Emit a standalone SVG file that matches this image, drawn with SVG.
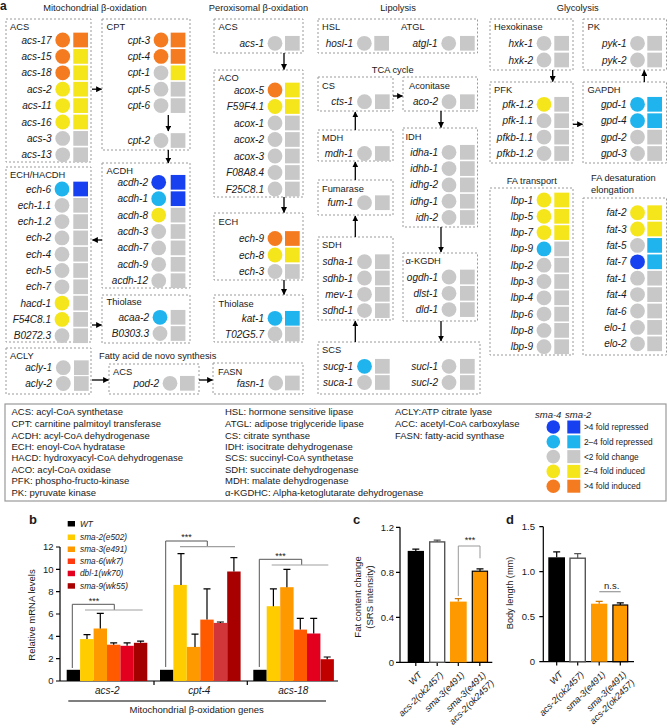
<svg xmlns="http://www.w3.org/2000/svg" width="667" height="728" viewBox="0 0 667 728">
<style>
text{font-family:'Liberation Sans',Arial,sans-serif;fill:#1a1a1a}
.box{fill:none;stroke:#9a9a9a;stroke-width:1;stroke-dasharray:2 2}
.g{font-size:10px;font-style:italic;text-anchor:end}
.h{font-size:9.3px}
.tc{font-size:9.3px;text-anchor:middle}
.lg{font-size:9.5px}
.k{font-size:8.3px}
.ax{font-size:9.5px;text-anchor:end}
.it{font-style:italic}
.xl{font-size:9.2px;font-style:italic;text-anchor:end}
.o{fill:#F47B20}.y{fill:#F5E51B}.n{fill:#C8C8C8}.l{fill:#1FB4EE}.d{fill:#1741F0}
.con{stroke:#000;stroke-width:1.3;fill:none;marker-end:url(#ah)}
.axis{stroke:#000;stroke-width:1.2;fill:none}
.eb{stroke:#000;stroke-width:1.2;fill:none}
.br{stroke:#555;stroke-width:1;fill:none}
.gr{stroke:#a0a0a0;stroke-width:1.2;fill:none}
</style>
<defs>
<marker id="ah" viewBox="0 0 10 10" refX="9" refY="5" markerWidth="6" markerHeight="6" markerUnits="userSpaceOnUse" orient="auto"><path d="M0,0 L10,5 L0,10 z" fill="#000"/></marker>
</defs>
<rect width="667" height="728" fill="#fff"/>

<text x="0" y="10" style="font-size:12px;font-weight:bold">a</text>
<text class="tc" x="95" y="11">Mitochondrial β-oxidation</text>
<text class="tc" x="258.5" y="11">Peroxisomal β-oxidation</text>
<text class="tc" x="398" y="11">Lipolysis</text>
<text class="tc" x="577.7" y="11">Glycolysis</text>
<text class="tc" x="392.7" y="72.5">TCA cycle</text>
<text class="tc" x="531.7" y="184">FA transport</text>
<text class="h" x="591" y="181">FA desaturation</text>
<text class="h" x="591" y="192.6">elongation</text>
<text class="h" x="99" y="359">Fatty acid de novo synthesis</text>

<g id="mito-acs">
<rect class="box" x="6" y="19" width="85" height="143"/>
<text class="h" x="10" y="29.5">ACS</text>
<text class="g" x="51.5" y="43.5">acs-17</text><circle class="o" cx="62.7" cy="40" r="7.4"/><rect class="o" x="73.3" y="32.65" width="14.7" height="14.7"/>
<text class="g" x="51.5" y="59.9">acs-15</text><circle class="o" cx="62.7" cy="56.4" r="7.4"/><rect class="y" x="73.3" y="49.05" width="14.7" height="14.7"/>
<text class="g" x="51.5" y="76.3">acs-18</text><circle class="o" cx="62.7" cy="72.8" r="7.4"/><rect class="y" x="73.3" y="65.45" width="14.7" height="14.7"/>
<text class="g" x="51.5" y="92.7">acs-2</text><circle class="y" cx="62.7" cy="89.2" r="7.4"/><rect class="y" x="73.3" y="81.85" width="14.7" height="14.7"/>
<text class="g" x="51.5" y="109.1">acs-11</text><circle class="y" cx="62.7" cy="105.6" r="7.4"/><rect class="y" x="73.3" y="98.25" width="14.7" height="14.7"/>
<text class="g" x="51.5" y="125.5">acs-16</text><circle class="y" cx="62.7" cy="122" r="7.4"/><rect class="y" x="73.3" y="114.65" width="14.7" height="14.7"/>
<text class="g" x="51.5" y="141.9">acs-3</text><circle class="n" cx="62.7" cy="138.4" r="7.4"/><rect class="n" x="73.3" y="131.05" width="14.7" height="14.7"/>
<text class="g" x="51.5" y="158.3">acs-13</text><circle class="n" cx="62.7" cy="154.8" r="7.4"/><rect class="n" x="73.3" y="147.45" width="14.7" height="14.7"/>
</g>

<g id="cpt">
<rect class="box" x="102" y="19" width="88" height="131"/>
<text class="h" x="106.5" y="29.5">CPT</text>
<text class="g" x="150" y="43.5">cpt-3</text><circle class="o" cx="161" cy="40" r="7.4"/><rect class="o" x="170.7" y="32.65" width="14.7" height="14.7"/>
<text class="g" x="150" y="59.9">cpt-4</text><circle class="o" cx="161" cy="56.4" r="7.4"/><rect class="o" x="170.7" y="49.05" width="14.7" height="14.7"/>
<text class="g" x="150" y="76.3">cpt-1</text><circle class="n" cx="161" cy="72.8" r="7.4"/><rect class="y" x="170.7" y="65.45" width="14.7" height="14.7"/>
<text class="g" x="150" y="92.7">cpt-5</text><circle class="n" cx="161" cy="89.2" r="7.4"/><rect class="n" x="170.7" y="81.85" width="14.7" height="14.7"/>
<text class="g" x="150" y="109.1">cpt-6</text><circle class="n" cx="161" cy="105.6" r="7.4"/><rect class="n" x="170.7" y="98.25" width="14.7" height="14.7"/>
<text class="g" x="150" y="144">cpt-2</text><circle class="n" cx="161" cy="140.5" r="7.4"/><rect class="n" x="170.7" y="133.15" width="14.7" height="14.7"/>
</g>

<g id="acdh">
<rect class="box" x="102" y="163" width="88" height="125"/>
<text class="h" x="106.5" y="174">ACDH</text>
<text class="g" x="148" y="185.8">acdh-2</text><circle class="d" cx="158.7" cy="182.3" r="7.4"/><rect class="d" x="170.7" y="174.95" width="14.7" height="14.7"/>
<text class="g" x="148" y="202.2">acdh-1</text><circle class="l" cx="158.7" cy="198.7" r="7.4"/><rect class="d" x="170.7" y="191.35" width="14.7" height="14.7"/>
<text class="g" x="148" y="218.6">acdh-8</text><circle class="y" cx="158.7" cy="215.1" r="7.4"/><rect class="n" x="170.7" y="207.75" width="14.7" height="14.7"/>
<text class="g" x="148" y="235">acdh-3</text><circle class="n" cx="158.7" cy="231.5" r="7.4"/><rect class="n" x="170.7" y="224.15" width="14.7" height="14.7"/>
<text class="g" x="148" y="251.4">acdh-7</text><circle class="n" cx="158.7" cy="247.9" r="7.4"/><rect class="n" x="170.7" y="240.55" width="14.7" height="14.7"/>
<text class="g" x="148" y="267.8">acdh-9</text><circle class="n" cx="158.7" cy="264.3" r="7.4"/><rect class="n" x="170.7" y="256.95" width="14.7" height="14.7"/>
<text class="g" x="148" y="284.2">acdh-12</text><circle class="n" cx="158.7" cy="280.7" r="7.4"/><rect class="n" x="170.7" y="273.35" width="14.7" height="14.7"/>
</g>

<g id="ech-hacdh">
<rect class="box" x="6" y="167" width="85" height="175"/>
<text class="h" x="10" y="177.6">ECH/HACDH</text>
<text class="g" x="51" y="192.5">ech-6</text><circle class="l" cx="62" cy="189" r="7.4"/><rect class="d" x="73.3" y="181.65" width="14.7" height="14.7"/>
<text class="g" x="51" y="208.8">ech-1.1</text><circle class="n" cx="62" cy="205.3" r="7.4"/><rect class="n" x="73.3" y="197.95" width="14.7" height="14.7"/>
<text class="g" x="51" y="225.1">ech-1.2</text><circle class="n" cx="62" cy="221.6" r="7.4"/><rect class="n" x="73.3" y="214.25" width="14.7" height="14.7"/>
<text class="g" x="51" y="241.4">ech-2</text><circle class="n" cx="62" cy="237.9" r="7.4"/><rect class="n" x="73.3" y="230.55" width="14.7" height="14.7"/>
<text class="g" x="51" y="257.7">ech-4</text><circle class="n" cx="62" cy="254.2" r="7.4"/><rect class="n" x="73.3" y="246.85" width="14.7" height="14.7"/>
<text class="g" x="51" y="274">ech-5</text><circle class="n" cx="62" cy="270.5" r="7.4"/><rect class="n" x="73.3" y="263.15" width="14.7" height="14.7"/>
<text class="g" x="51" y="290.3">ech-7</text><circle class="n" cx="62" cy="286.8" r="7.4"/><rect class="n" x="73.3" y="279.45" width="14.7" height="14.7"/>
<text class="g" x="51" y="306.6">hacd-1</text><circle class="y" cx="62" cy="303.1" r="7.4"/><rect class="n" x="73.3" y="295.75" width="14.7" height="14.7"/>
<text class="g" x="51" y="322.9">F54C8.1</text><circle class="y" cx="62" cy="319.4" r="7.4"/><rect class="n" x="73.3" y="312.05" width="14.7" height="14.7"/>
<text class="g" x="51" y="339.2">B0272.3</text><circle class="n" cx="62" cy="335.7" r="7.4"/><rect class="n" x="73.3" y="328.35" width="14.7" height="14.7"/>
</g>

<g id="thiolase-mito">
<rect class="box" x="102" y="295" width="88" height="48"/>
<text class="h" x="106.5" y="305.3">Thiolase</text>
<text class="g" x="149" y="320.8">acaa-2</text><circle class="l" cx="160" cy="317.3" r="7.4"/><rect class="n" x="170.7" y="309.95" width="14.7" height="14.7"/>
<text class="g" x="149" y="337">B0303.3</text><circle class="n" cx="160" cy="333.5" r="7.4"/><rect class="n" x="170.7" y="326.15" width="14.7" height="14.7"/>
</g>

<g id="acly">
<rect class="box" x="6" y="348" width="85" height="46"/>
<text class="h" x="10" y="358.5">ACLY</text>
<text class="g" x="52" y="371.2">acly-1</text><circle class="n" cx="63.3" cy="367.7" r="7.4"/><rect class="n" x="74" y="360.35" width="14.7" height="14.7"/>
<text class="g" x="52" y="387">acly-2</text><circle class="n" cx="63.3" cy="383.5" r="7.4"/><rect class="n" x="74" y="376.15" width="14.7" height="14.7"/>
</g>

<g id="acs-denovo">
<rect class="box" x="109" y="364" width="90" height="30"/>
<text class="h" x="113" y="375">ACS</text>
<text class="g" x="159" y="386.8">pod-2</text><circle class="n" cx="170" cy="383.3" r="7.4"/><rect class="n" x="180" y="375.95" width="14.7" height="14.7"/>
</g>

<g id="fasn">
<rect class="box" x="213" y="363" width="90" height="31"/>
<text class="h" x="218" y="375">FASN</text>
<text class="g" x="264.5" y="386.5">fasn-1</text><circle class="n" cx="275.7" cy="383" r="7.4"/><rect class="n" x="285" y="375.65" width="14.7" height="14.7"/>
</g>

<g id="perox-acs">
<rect class="box" x="214" y="19" width="89" height="34"/>
<text class="h" x="218.5" y="30">ACS</text>
<text class="g" x="264" y="46.8">acs-1</text><circle class="n" cx="275" cy="43.3" r="7.4"/><rect class="n" x="285" y="35.95" width="14.7" height="14.7"/>
</g>

<g id="aco">
<rect class="box" x="214" y="70" width="89" height="127"/>
<text class="h" x="218.5" y="80.6">ACO</text>
<text class="g" x="264" y="93.5">acox-5</text><circle class="o" cx="275" cy="90" r="7.4"/><rect class="y" x="285" y="82.65" width="14.7" height="14.7"/>
<text class="g" x="264" y="110">F59F4.1</text><circle class="y" cx="275" cy="106.5" r="7.4"/><rect class="y" x="285" y="99.15" width="14.7" height="14.7"/>
<text class="g" x="264" y="126.5">acox-1</text><circle class="n" cx="275" cy="123" r="7.4"/><rect class="n" x="285" y="115.65" width="14.7" height="14.7"/>
<text class="g" x="264" y="143">acox-2</text><circle class="n" cx="275" cy="139.5" r="7.4"/><rect class="n" x="285" y="132.15" width="14.7" height="14.7"/>
<text class="g" x="264" y="159.5">acox-3</text><circle class="n" cx="275" cy="156" r="7.4"/><rect class="n" x="285" y="148.65" width="14.7" height="14.7"/>
<text class="g" x="264" y="176">F08A8.4</text><circle class="n" cx="275" cy="172.5" r="7.4"/><rect class="n" x="285" y="165.15" width="14.7" height="14.7"/>
<text class="g" x="264" y="192.5">F25C8.1</text><circle class="n" cx="275" cy="189" r="7.4"/><rect class="n" x="285" y="181.65" width="14.7" height="14.7"/>
</g>

<g id="ech-perox">
<rect class="box" x="214" y="213" width="89" height="67"/>
<text class="h" x="218.5" y="225.3">ECH</text>
<text class="g" x="264" y="242">ech-9</text><circle class="o" cx="275" cy="238.5" r="7.4"/><rect class="o" x="285" y="231.15" width="14.7" height="14.7"/>
<text class="g" x="264" y="258.5">ech-8</text><circle class="y" cx="275" cy="255" r="7.4"/><rect class="y" x="285" y="247.65" width="14.7" height="14.7"/>
<text class="g" x="264" y="275">ech-3</text><circle class="n" cx="275" cy="271.5" r="7.4"/><rect class="n" x="285" y="264.15" width="14.7" height="14.7"/>
</g>

<g id="thiolase-perox">
<rect class="box" x="214" y="295" width="89" height="47"/>
<text class="h" x="218.5" y="306.6">Thiolase</text>
<text class="g" x="264" y="321.8">kat-1</text><circle class="l" cx="275" cy="318.3" r="7.4"/><rect class="l" x="285" y="310.95" width="14.7" height="14.7"/>
<text class="g" x="264" y="337.5">T02G5.7</text><circle class="n" cx="275" cy="334" r="7.4"/><rect class="n" x="285" y="326.65" width="14.7" height="14.7"/>
</g>

<g id="hsl-atgl">
<rect class="box" x="318" y="19" width="159.5" height="34"/>
<text class="h" x="322" y="30">HSL</text>
<text class="h" x="401" y="30">ATGL</text>
<text class="g" x="353" y="46.8">hosl-1</text><circle class="n" cx="364.3" cy="43.3" r="7.4"/><rect class="n" x="374.3" y="35.95" width="14.7" height="14.7"/>
<text class="g" x="437.5" y="46.8">atgl-1</text><circle class="n" cx="448.7" cy="43.3" r="7.4"/><rect class="n" x="460" y="35.95" width="14.7" height="14.7"/>
</g>

<g id="cs">
<rect class="box" x="318" y="77" width="75" height="34"/>
<text class="h" x="322" y="89.3">CS</text>
<text class="g" x="353" y="105.2">cts-1</text><circle class="n" cx="364.5" cy="101.7" r="7.4"/><rect class="n" x="375" y="94.35" width="14.7" height="14.7"/>
</g>

<g id="aconitase">
<rect class="box" x="403" y="77" width="74.5" height="34"/>
<text class="h" x="409" y="88.6">Aconitase</text>
<text class="g" x="438" y="105.2">aco-2</text><circle class="n" cx="449" cy="101.7" r="7.4"/><rect class="n" x="460" y="94.35" width="14.7" height="14.7"/>
</g>

<g id="mdh">
<rect class="box" x="318" y="130" width="75" height="31"/>
<text class="h" x="322" y="140.6">MDH</text>
<text class="g" x="353" y="157">mdh-1</text><circle class="n" cx="364.5" cy="153.5" r="7.4"/><rect class="n" x="375" y="146.15" width="14.7" height="14.7"/>
</g>

<g id="fumarase">
<rect class="box" x="318" y="180" width="75" height="35"/>
<text class="h" x="322" y="192.3">Fumarase</text>
<text class="g" x="353" y="206.2">fum-1</text><circle class="n" cx="364.5" cy="202.7" r="7.4"/><rect class="n" x="375" y="195.35" width="14.7" height="14.7"/>
</g>

<g id="sdh">
<rect class="box" x="318" y="237" width="75" height="83"/>
<text class="h" x="322" y="248.3">SDH</text>
<text class="g" x="353" y="265.2">sdha-1</text><circle class="n" cx="364.5" cy="261.7" r="7.4"/><rect class="n" x="375" y="254.35" width="14.7" height="14.7"/>
<text class="g" x="353" y="281.5">sdhb-1</text><circle class="n" cx="364.5" cy="278" r="7.4"/><rect class="n" x="375" y="270.65" width="14.7" height="14.7"/>
<text class="g" x="353" y="297.8">mev-1</text><circle class="n" cx="364.5" cy="294.3" r="7.4"/><rect class="n" x="375" y="286.95" width="14.7" height="14.7"/>
<text class="g" x="353" y="314.1">sdhd-1</text><circle class="n" cx="364.5" cy="310.6" r="7.4"/><rect class="n" x="375" y="303.25" width="14.7" height="14.7"/>
</g>

<g id="idh">
<rect class="box" x="403" y="128" width="74.5" height="99"/>
<text class="h" x="405.5" y="140">IDH</text>
<text class="g" x="438" y="155.8">idha-1</text><circle class="n" cx="449" cy="152.3" r="7.4"/><rect class="n" x="460" y="144.95" width="14.7" height="14.7"/>
<text class="g" x="438" y="172.1">idhb-1</text><circle class="n" cx="449" cy="168.6" r="7.4"/><rect class="n" x="460" y="161.25" width="14.7" height="14.7"/>
<text class="g" x="438" y="188.4">idhg-2</text><circle class="n" cx="449" cy="184.9" r="7.4"/><rect class="n" x="460" y="177.55" width="14.7" height="14.7"/>
<text class="g" x="438" y="204.7">idhg-1</text><circle class="n" cx="449" cy="201.2" r="7.4"/><rect class="n" x="460" y="193.85" width="14.7" height="14.7"/>
<text class="g" x="438" y="221">idh-2</text><circle class="n" cx="449" cy="217.5" r="7.4"/><rect class="n" x="460" y="210.15" width="14.7" height="14.7"/>
</g>

<g id="a-kgdh">
<rect class="box" x="403" y="253" width="74.5" height="68"/>
<text class="h" x="405.5" y="264.3">α-KGDH</text>
<text class="g" x="438" y="280.5">ogdh-1</text><circle class="n" cx="449" cy="277" r="7.4"/><rect class="n" x="460" y="269.65" width="14.7" height="14.7"/>
<text class="g" x="438" y="296.8">dlst-1</text><circle class="n" cx="449" cy="293.3" r="7.4"/><rect class="n" x="460" y="285.95" width="14.7" height="14.7"/>
<text class="g" x="438" y="313.1">dld-1</text><circle class="n" cx="449" cy="309.6" r="7.4"/><rect class="n" x="460" y="302.25" width="14.7" height="14.7"/>
</g>

<g id="scs">
<rect class="box" x="318" y="342" width="162" height="52"/>
<text class="h" x="322" y="353.3">SCS</text>
<text class="g" x="353" y="369.8">sucg-1</text><circle class="l" cx="364.5" cy="366.3" r="7.4"/><rect class="n" x="375" y="358.95" width="14.7" height="14.7"/>
<text class="g" x="353" y="386">suca-1</text><circle class="n" cx="364.5" cy="382.5" r="7.4"/><rect class="n" x="375" y="375.15" width="14.7" height="14.7"/>
<text class="g" x="438" y="369.8">sucl-1</text><circle class="n" cx="449" cy="366.3" r="7.4"/><rect class="n" x="460" y="358.95" width="14.7" height="14.7"/>
<text class="g" x="438" y="386">sucl-2</text><circle class="n" cx="449" cy="382.5" r="7.4"/><rect class="n" x="460" y="375.15" width="14.7" height="14.7"/>
</g>

<g id="hexokinase">
<rect class="box" x="490" y="19" width="83" height="51"/>
<text class="h" x="494" y="30">Hexokinase</text>
<text class="g" x="533" y="46.8">hxk-1</text><circle class="n" cx="544" cy="43.3" r="7.4"/><rect class="n" x="554.3" y="35.95" width="14.7" height="14.7"/>
<text class="g" x="533" y="63.5">hxk-2</text><circle class="n" cx="544" cy="60" r="7.4"/><rect class="n" x="554.3" y="52.65" width="14.7" height="14.7"/>
</g>

<g id="pk">
<rect class="box" x="583" y="19" width="83.5" height="51"/>
<text class="h" x="587.5" y="30">PK</text>
<text class="g" x="626.5" y="46.8">pyk-1</text><circle class="n" cx="637.5" cy="43.3" r="7.4"/><rect class="n" x="647.3" y="35.95" width="14.7" height="14.7"/>
<text class="g" x="626.5" y="63.5">pyk-2</text><circle class="n" cx="637.5" cy="60" r="7.4"/><rect class="n" x="647.3" y="52.65" width="14.7" height="14.7"/>
</g>

<g id="pfk">
<rect class="box" x="490" y="82" width="83" height="81"/>
<text class="h" x="494" y="93.3">PFK</text>
<text class="g" x="533" y="107.8">pfk-1.2</text><circle class="y" cx="544" cy="104.3" r="7.4"/><rect class="n" x="554.3" y="96.95" width="14.7" height="14.7"/>
<text class="g" x="533" y="124.2">pfk-1.1</text><circle class="n" cx="544" cy="120.7" r="7.4"/><rect class="n" x="554.3" y="113.35" width="14.7" height="14.7"/>
<text class="g" x="533" y="140.6">pfkb-1.1</text><circle class="n" cx="544" cy="137.1" r="7.4"/><rect class="n" x="554.3" y="129.75" width="14.7" height="14.7"/>
<text class="g" x="533" y="157">pfkb-1.2</text><circle class="n" cx="544" cy="153.5" r="7.4"/><rect class="n" x="554.3" y="146.15" width="14.7" height="14.7"/>
</g>

<g id="gapdh">
<rect class="box" x="583" y="82" width="83.5" height="81"/>
<text class="h" x="587.5" y="93.3">GAPDH</text>
<text class="g" x="626.5" y="107.8">gpd-1</text><circle class="l" cx="637.5" cy="104.3" r="7.4"/><rect class="l" x="647.3" y="96.95" width="14.7" height="14.7"/>
<text class="g" x="626.5" y="124.2">gpd-4</text><circle class="l" cx="637.5" cy="120.7" r="7.4"/><rect class="l" x="647.3" y="113.35" width="14.7" height="14.7"/>
<text class="g" x="626.5" y="140.6">gpd-2</text><circle class="n" cx="637.5" cy="137.1" r="7.4"/><rect class="n" x="647.3" y="129.75" width="14.7" height="14.7"/>
<text class="g" x="626.5" y="157">gpd-3</text><circle class="n" cx="637.5" cy="153.5" r="7.4"/><rect class="n" x="647.3" y="146.15" width="14.7" height="14.7"/>
</g>

<g id="fa-transport">
<rect class="box" x="490" y="188" width="83" height="167"/>
<text class="g" x="533" y="203.5">lbp-1</text><circle class="y" cx="544" cy="200" r="7.4"/><rect class="y" x="554.3" y="192.65" width="14.7" height="14.7"/>
<text class="g" x="533" y="219.8">lbp-5</text><circle class="y" cx="544" cy="216.3" r="7.4"/><rect class="y" x="554.3" y="208.95" width="14.7" height="14.7"/>
<text class="g" x="533" y="236.1">lbp-7</text><circle class="y" cx="544" cy="232.6" r="7.4"/><rect class="y" x="554.3" y="225.25" width="14.7" height="14.7"/>
<text class="g" x="533" y="252.4">lbp-9</text><circle class="l" cx="544" cy="248.9" r="7.4"/><rect class="n" x="554.3" y="241.55" width="14.7" height="14.7"/>
<text class="g" x="533" y="268.7">lbp-2</text><circle class="n" cx="544" cy="265.2" r="7.4"/><rect class="n" x="554.3" y="257.85" width="14.7" height="14.7"/>
<text class="g" x="533" y="285">lbp-3</text><circle class="n" cx="544" cy="281.5" r="7.4"/><rect class="n" x="554.3" y="274.15" width="14.7" height="14.7"/>
<text class="g" x="533" y="301.3">lbp-4</text><circle class="n" cx="544" cy="297.8" r="7.4"/><rect class="n" x="554.3" y="290.45" width="14.7" height="14.7"/>
<text class="g" x="533" y="317.6">lbp-6</text><circle class="n" cx="544" cy="314.1" r="7.4"/><rect class="n" x="554.3" y="306.75" width="14.7" height="14.7"/>
<text class="g" x="533" y="333.9">lbp-8</text><circle class="n" cx="544" cy="330.4" r="7.4"/><rect class="n" x="554.3" y="323.05" width="14.7" height="14.7"/>
<text class="g" x="533" y="350.2">lbp-9</text><circle class="n" cx="544" cy="346.7" r="7.4"/><rect class="n" x="554.3" y="339.35" width="14.7" height="14.7"/>
</g>

<g id="fa-desaturation">
<rect class="box" x="583" y="198" width="83.5" height="157"/>
<text class="g" x="626.5" y="216.2">fat-2</text><circle class="y" cx="637.5" cy="212.7" r="7.4"/><rect class="y" x="647.3" y="205.35" width="14.7" height="14.7"/>
<text class="g" x="626.5" y="232.5">fat-3</text><circle class="y" cx="637.5" cy="229" r="7.4"/><rect class="y" x="647.3" y="221.65" width="14.7" height="14.7"/>
<text class="g" x="626.5" y="248.9">fat-5</text><circle class="n" cx="637.5" cy="245.4" r="7.4"/><rect class="l" x="647.3" y="238.05" width="14.7" height="14.7"/>
<text class="g" x="626.5" y="265.3">fat-7</text><circle class="d" cx="637.5" cy="261.8" r="7.4"/><rect class="l" x="647.3" y="254.45" width="14.7" height="14.7"/>
<text class="g" x="626.5" y="281.7">fat-1</text><circle class="n" cx="637.5" cy="278.2" r="7.4"/><rect class="n" x="647.3" y="270.85" width="14.7" height="14.7"/>
<text class="g" x="626.5" y="298.1">fat-4</text><circle class="n" cx="637.5" cy="294.6" r="7.4"/><rect class="n" x="647.3" y="287.25" width="14.7" height="14.7"/>
<text class="g" x="626.5" y="314.5">fat-6</text><circle class="n" cx="637.5" cy="311" r="7.4"/><rect class="n" x="647.3" y="303.65" width="14.7" height="14.7"/>
<text class="g" x="626.5" y="330.9">elo-1</text><circle class="n" cx="637.5" cy="327.4" r="7.4"/><rect class="n" x="647.3" y="320.05" width="14.7" height="14.7"/>
<text class="g" x="626.5" y="347.3">elo-2</text><circle class="n" cx="637.5" cy="343.8" r="7.4"/><rect class="n" x="647.3" y="336.45" width="14.7" height="14.7"/>
</g>

<g id="connectors">
<path class="con" d="M92,89.2 H101.5"/>
<path class="con" d="M168.3,115 V131"/>
<path class="con" d="M168.3,150 V163"/>
<path class="con" d="M102,240 H92.5"/>
<path class="con" d="M92,325 H101.5"/>
<path class="con" d="M92,380 H108.5"/>
<path class="con" d="M199,380 H212.5"/>
<path class="con" d="M284,53 V69.5"/>
<path class="con" d="M284,197 V212.5"/>
<path class="con" d="M284,280 V294.5"/>
<path class="con" d="M393,96 H402.5"/>
<path class="con" d="M441,111 V127.5"/>
<path class="con" d="M441,227 V252"/>
<path class="con" d="M441,321 V341"/>
<path class="con" d="M355.3,342 V321"/>
<path class="con" d="M355.3,237 V216"/>
<path class="con" d="M355.3,180 V162"/>
<path class="con" d="M355.3,130 V112"/>
<path class="con" d="M552.7,70 V81.5"/>
<path class="con" d="M573,124.3 H582.5"/>
<path class="con" d="M644.3,82 V70.5"/>
</g>

<g id="legend">
<rect x="5" y="404" width="661" height="97" fill="none" stroke="#999" stroke-width="1.2"/>
<text class="lg" x="11.5" y="415.3">ACS: acyl-CoA synthetase</text>
<text class="lg" x="11.5" y="427">CPT: carnitine palmitoyl transferase</text>
<text class="lg" x="11.5" y="438.5">ACDH: acyl-CoA dehydrogenase</text>
<text class="lg" x="11.5" y="449.9">ECH: enoyl-CoA hydratase</text>
<text class="lg" x="11.5" y="461.3">HACD: hydroxyacyl-CoA dehydrogenase</text>
<text class="lg" x="11.5" y="472.7">ACO: acyl-CoA oxidase</text>
<text class="lg" x="11.5" y="484.2">PFK: phospho-fructo-kinase</text>
<text class="lg" x="11.5" y="495.6">PK: pyruvate kinase</text>
<text class="lg" x="225" y="415.3">HSL: hormone sensitive lipase</text>
<text class="lg" x="225" y="427">ATGL: adipose triglyceride lipase</text>
<text class="lg" x="225" y="438.5">CS: citrate synthase</text>
<text class="lg" x="225" y="449.9">IDH: isocitrate dehydrogenase</text>
<text class="lg" x="225" y="461.3">SCS: succinyl-CoA synthetase</text>
<text class="lg" x="225" y="472.7">SDH: succinate dehydrogenase</text>
<text class="lg" x="225" y="484.2">MDH: malate dehydrogenase</text>
<text class="lg" x="225" y="495.6">α-KGDHC: Alpha-ketoglutarate dehydrogenase</text>
<text class="lg" x="395" y="415.3">ACLY:ATP citrate lyase</text>
<text class="lg" x="395" y="427">ACC: acetyl-CoA carboxylase</text>
<text class="lg" x="395" y="438.5">FASN: fatty-acid synthase</text>
<text class="lg it" x="535" y="417.5">sma-4</text>
<text class="lg it" x="565" y="417.5">sma-2</text>
<circle class="d" cx="553.3" cy="427" r="6.8"/><rect class="d" x="567.3" y="420.5" width="13" height="13"/><text class="k" x="584" y="430">&gt;4 fold repressed</text>
<circle class="l" cx="553.3" cy="441.8" r="6.8"/><rect class="l" x="567.3" y="435.3" width="13" height="13"/><text class="k" x="584" y="444.8">2–4 fold repressed</text>
<circle class="n" cx="553.3" cy="456.6" r="6.8"/><rect class="n" x="567.3" y="450.1" width="13" height="13"/><text class="k" x="584" y="459.6">&lt;2 fold change</text>
<circle class="y" cx="553.3" cy="471.4" r="6.8"/><rect class="y" x="567.3" y="464.9" width="13" height="13"/><text class="k" x="584" y="474.4">2–4 fold induced</text>
<circle class="o" cx="553.3" cy="486.2" r="6.8"/><rect class="o" x="567.3" y="479.7" width="13" height="13"/><text class="k" x="584" y="489.2">&gt;4 fold induced</text>
</g>

<g id="panel-b">
<text x="29" y="524" style="font-size:13px;font-weight:bold">b</text>
<rect x="67.7" y="521" width="7.3" height="5.5" fill="#000"/><text class="k it" x="80" y="526.5">WT</text>
<rect x="67.7" y="534.5" width="7.3" height="5.5" fill="#FFCC00"/><text class="k it" x="80" y="540">sma-2(e502)</text>
<rect x="67.7" y="546.5" width="7.3" height="5.5" fill="#FF9900"/><text class="k it" x="80" y="552">sma-3(e491)</text>
<rect x="67.7" y="558.5" width="7.3" height="5.5" fill="#FF3A10"/><text class="k it" x="80" y="564">sma-6(wk7)</text>
<rect x="67.7" y="570.7" width="7.3" height="5.5" fill="#E2001E"/><text class="k it" x="80" y="576.2">dbl-1(wk70)</text>
<rect x="67.7" y="583.2" width="7.3" height="5.5" fill="#A80000"/><text class="k it" x="80" y="588.7">sma-9(wk55)</text>
<text transform="translate(35,615) rotate(-90)" style="font-size:9.5px;text-anchor:middle">Relative mRNA levels</text>
<path class="axis" d="M60,547 V681 M56,547 H60 M56,569.3 H60 M56,591.7 H60 M56,614 H60 M56,636.3 H60 M56,658.7 H60 M56,681 H60 M56.7,681 H338 M154,681 V685 M247.3,681 V685"/>
<text class="ax" x="53.5" y="550.3">12</text>
<text class="ax" x="53.5" y="572.6">10</text>
<text class="ax" x="53.5" y="595">8</text>
<text class="ax" x="53.5" y="617.3">6</text>
<text class="ax" x="53.5" y="639.6">4</text>
<text class="ax" x="53.5" y="662">2</text>
<text class="ax" x="53.5" y="684.3">0</text>
<rect x="66.7" y="669.8" width="13.4" height="11.2" fill="#000"/>
<rect x="80.1" y="639.1" width="13.4" height="41.9" fill="#FFCC00"/>
<rect x="93.6" y="628.5" width="13.4" height="52.5" fill="#FF9900"/>
<rect x="107" y="644.7" width="13.4" height="36.3" fill="#FF5A00"/>
<rect x="120.4" y="645.8" width="13.4" height="35.2" fill="#E2001E"/>
<rect x="133.9" y="642.8" width="13.4" height="38.2" fill="#A30000"/>
<rect x="160" y="669.8" width="13.4" height="11.2" fill="#000"/>
<rect x="173.4" y="584.9" width="13.4" height="96.1" fill="#FFCC00"/>
<rect x="186.9" y="646.9" width="13.4" height="34.1" fill="#FF9900"/>
<rect x="200.3" y="619.6" width="13.4" height="61.4" fill="#FF5A00"/>
<rect x="213.7" y="622.9" width="13.4" height="58.1" fill="#D0363A"/>
<rect x="227.2" y="571.5" width="13.4" height="109.5" fill="#A80000"/>
<rect x="253.3" y="669.8" width="13.4" height="11.2" fill="#000"/>
<rect x="266.7" y="606.2" width="13.4" height="74.8" fill="#FFCC00"/>
<rect x="280.2" y="587.2" width="13.4" height="93.8" fill="#FF9900"/>
<rect x="293.6" y="629.6" width="13.4" height="51.4" fill="#FF5A00"/>
<rect x="307" y="633.5" width="13.4" height="47.5" fill="#E2001E"/>
<rect x="320.5" y="659.2" width="13.4" height="21.8" fill="#C00000"/>
<path class="eb" d="M87,639.1 V634.6 M83.5,634.6 H90.5 M100.3,628.5 V613.4 M96.8,613.4 H103.8 M113.7,644.7 V642.8 M110.2,642.8 H117.2 M127.1,645.8 V642.8 M123.6,642.8 H130.6 M140.6,642.8 V641.1 M137.1,641.1 H144.1
M181,584.9 V553.7 M177.5,553.7 H184.5 M195,646.9 V634.1 M191.5,634.1 H198.5 M207,619.6 V588.8 M203.5,588.8 H210.5 M220.4,622.9 V622 M216.9,622 H223.9 M233.9,571.5 V557.6 M230.4,557.6 H237.4
M273.4,606.2 V588.8 M269.9,588.8 H276.9 M286.9,587.2 V569.3 M283.4,569.3 H290.4 M300.3,629.6 V618.4 M296.8,618.4 H303.8 M313.7,633.5 V618.4 M310.2,618.4 H317.2 M327.2,659.2 V657 M323.7,657 H330.7"/>
<path class="br" d="M72.3,668 V604.3 H114.3 V610 M165.7,667 V541 H207.3 V546.7 M259.3,667 V559.3 H301.7 V565"/>
<path class="gr" d="M85,610 H142.7 M180,546.7 H235 M271.7,565 H328.3"/>
<text x="94" y="603.5" style="font-size:9px;text-anchor:middle">***</text>
<text x="186.5" y="540" style="font-size:9px;text-anchor:middle">***</text>
<text x="280.5" y="558.5" style="font-size:9px;text-anchor:middle">***</text>
<text class="it" x="107.3" y="694" style="font-size:10px;text-anchor:middle">acs-2</text>
<text class="it" x="199.3" y="694" style="font-size:10px;text-anchor:middle">cpt-4</text>
<text class="it" x="293.3" y="694" style="font-size:10px;text-anchor:middle">acs-18</text>
<path d="M68.3,701 H326" stroke="#000" stroke-width="1.2"/>
<text x="196.7" y="712.8" style="font-size:9.5px;text-anchor:middle">Mitochondrial β-oxidation genes</text>
</g>

<g id="panel-c">
<text x="353" y="524" style="font-size:13px;font-weight:bold">c</text>
<text transform="translate(361,597) rotate(-90)" style="font-size:9.5px;text-anchor:middle">Fat content change</text>
<text transform="translate(373,597) rotate(-90)" style="font-size:9.5px;text-anchor:middle">(SRS intensity)</text>
<path class="axis" d="M400,527.3 V662.3 M396,527.3 H400 M396,572.3 H400 M396,617.3 H400 M396,662.3 H400 M400,662.3 H492.3 M415.8,662.3 V666 M437.2,662.3 V666 M458.3,662.3 V666 M479.8,662.3 V666"/>
<text class="ax" x="394" y="530.6">1.2</text>
<text class="ax" x="394" y="575.6">0.8</text>
<text class="ax" x="394" y="620.6">0.4</text>
<text class="ax" x="394" y="665.6">0</text>
<rect x="407.7" y="550.9" width="16.3" height="111.4" fill="#000"/>
<rect x="429.7" y="541.9" width="15" height="120.4" fill="#fff" stroke="#555" stroke-width="1.4"/>
<rect x="450" y="601.6" width="16.7" height="60.7" fill="#FF9900"/>
<rect x="472.3" y="571.2" width="15.2" height="91.1" fill="#FF9900" stroke="#000" stroke-width="1.2"/>
<path class="eb" d="M415.8,550.9 V549.2 M412.3,549.2 H419.3 M480,571.2 V568.9 M476.5,568.9 H483.5"/>
<path d="M437.2,541.9 V540.2 M433.7,540.2 H440.7" stroke="#555" stroke-width="1.2"/>
<path d="M458.3,601.6 V598.7 M454.8,598.7 H461.8" stroke="#D07800" stroke-width="1.2"/>
<path d="M458.3,596 V546 H480 V558.3" fill="none" stroke="#999" stroke-width="1"/>
<text x="470" y="543" style="font-size:9px;text-anchor:middle">***</text>
<text class="xl" transform="translate(422.5,675.5) rotate(-45)">WT</text>
<text class="xl" transform="translate(443.9,675.5) rotate(-45)">acs-2(ok2457)</text>
<text class="xl" transform="translate(465,675.5) rotate(-45)">sma-3(e491)</text>
<text class="xl" transform="translate(486.5,675.5) rotate(-45)"><tspan x="0" y="0">sma-3(e491)</tspan><tspan x="0" y="11.5">acs-2(ok2457)</tspan></text>
</g>

<g id="panel-d">
<text x="506" y="524" style="font-size:13px;font-weight:bold">d</text>
<text transform="translate(513,593) rotate(-90)" style="font-size:9.2px;text-anchor:middle">Body length (mm)</text>
<path class="axis" d="M543.3,526.7 V661.7 M539.3,526.7 H543.3 M539.3,571.7 H543.3 M539.3,616.7 H543.3 M539.3,661.7 H543.3 M543.3,661.7 H634 M556.7,661.7 V665.4 M577.7,661.7 V665.4 M599.2,661.7 V665.4 M620.3,661.7 V665.4"/>
<text class="ax" x="535" y="530">1.5</text>
<text class="ax" x="535" y="575">1.0</text>
<text class="ax" x="535" y="620">0.5</text>
<text class="ax" x="535" y="665">0</text>
<rect x="548.3" y="557.3" width="16.7" height="104.4" fill="#000"/>
<rect x="570" y="558.2" width="15.3" height="103.5" fill="#fff" stroke="#555" stroke-width="1.4"/>
<rect x="591" y="603.7" width="16.3" height="58" fill="#FF9900"/>
<rect x="612.9" y="605" width="14.8" height="56.7" fill="#FF9900" stroke="#000" stroke-width="1.2"/>
<path class="eb" d="M556.7,557.3 V551.9 M553.2,551.9 H560.2 M620.3,605 V602.8 M616.8,602.8 H623.8"/>
<path d="M577.7,558.2 V553.7 M574.2,553.7 H581.2" stroke="#555" stroke-width="1.2"/>
<path d="M599.2,603.7 V601.4 M595.7,601.4 H602.7" stroke="#D07800" stroke-width="1.2"/>
<text x="611.7" y="589.3" style="font-size:9.5px;text-anchor:middle">n.s.</text>
<path d="M599.3,591.7 H620.7" stroke="#999" stroke-width="1.2"/>
<text class="xl" transform="translate(563.5,675) rotate(-45)">WT</text>
<text class="xl" transform="translate(584.5,675) rotate(-45)">acs-2(ok2457)</text>
<text class="xl" transform="translate(606,675) rotate(-45)">sma-3(e491)</text>
<text class="xl" transform="translate(627,675) rotate(-45)"><tspan x="0" y="0">sma-3(e491)</tspan><tspan x="0" y="11.5">acs-2(ok2457)</tspan></text>
</g>
</svg>
